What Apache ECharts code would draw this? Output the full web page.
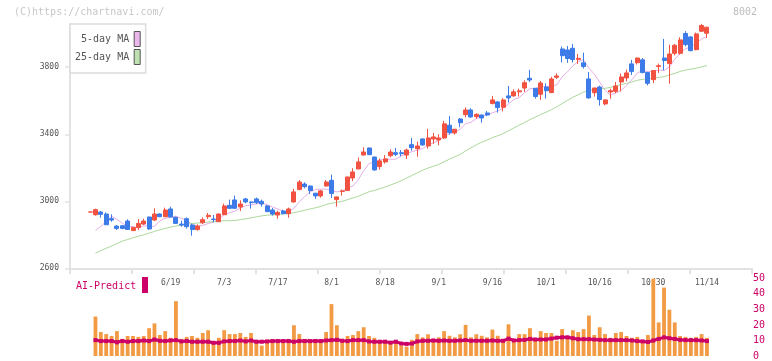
<!DOCTYPE html>
<html><head><meta charset="utf-8">
<script src="https://cdn.jsdelivr.net/npm/echarts@6/dist/echarts.min.js"></script>
<style>html,body{margin:0;padding:0;background:#fff}#c{width:772px;height:361px}</style>
</head><body><div id="c"></div>
<script>
const dates = ['5/29','5/30','6/2','6/3','6/4','6/5','6/6','6/9','6/10','6/11','6/12','6/13','6/16','6/17','6/18','6/19','6/20','6/23','6/24','6/25','6/26','6/27','6/30','7/1','7/2','7/3','7/4','7/7','7/8','7/9','7/10','7/11','7/14','7/15','7/16','7/17','7/18','7/22','7/23','7/24','7/25','7/28','7/29','7/30','7/31','8/1','8/4','8/5','8/6','8/7','8/8','8/12','8/13','8/14','8/15','8/18','8/19','8/20','8/21','8/22','8/25','8/26','8/27','8/28','8/29','9/1','9/2','9/3','9/4','9/5','9/8','9/9','9/10','9/11','9/12','9/16','9/17','9/18','9/19','9/22','9/24','9/25','9/26','9/29','9/30','10/1','10/2','10/3','10/6','10/7','10/8','10/9','10/10','10/14','10/15','10/16','10/17','10/20','10/21','10/22','10/23','10/24','10/27','10/28','10/29','10/30','10/31','11/4','11/5','11/6','11/7','11/10','11/11','11/12','11/13','11/14'];
const dateLabels = ['6/19','7/3','7/17','8/1','8/18','9/1','9/16','10/1','10/16','10/30','11/14'];
const priceTicks = [2600,3000,3400,3800];

const opens  = [2936,2920,2936,2924,2896,2852,2854,2882,2825,2843,2864,2906,2888,2924,2908,2954,2904,2864,2896,2858,2831,2872,2908,2894,2878,2920,2976,3008,2966,3014,2996,3014,3000,2972,2948,2918,2942,2926,2996,3070,3103,3091,3048,3032,3091,3125,3010,3058,3064,3139,3193,3276,3318,3264,3207,3235,3272,3290,3290,3276,3338,3314,3372,3330,3372,3366,3378,3454,3408,3491,3517,3545,3505,3515,3527,3583,3593,3561,3629,3629,3653,3676,3734,3674,3639,3682,3649,3740,3909,3903,3913,3847,3826,3730,3648,3682,3581,3652,3656,3712,3736,3820,3827,3844,3768,3726,3804,3855,3822,3883,3883,4001,3981,3905,4015,4003];
const closes = [2936,2950,2922,2860,2888,2838,2838,2832,2843,2868,2882,2835,2924,2908,2948,2906,2868,2858,2848,2831,2852,2890,2916,2891,2924,2972,2958,2958,2984,2996,2992,2992,2984,2938,2924,2934,2926,2954,3056,3115,3087,3064,3032,3062,3115,3046,3026,3062,3145,3175,3235,3294,3278,3187,3241,3253,3294,3280,3284,3306,3320,3330,3336,3378,3384,3378,3462,3410,3430,3469,3545,3503,3519,3497,3515,3605,3559,3605,3617,3653,3659,3708,3724,3625,3706,3660,3730,3748,3869,3852,3846,3853,3804,3617,3676,3607,3605,3660,3688,3742,3766,3774,3855,3768,3704,3780,3809,3840,3879,3931,3963,3935,3899,3999,4049,4039];
const lows   = [2934,2914,2902,2858,2878,2829,2833,2829,2824,2829,2858,2829,2882,2906,2906,2905,2866,2848,2837,2795,2825,2864,2894,2874,2876,2918,2954,2954,2942,2988,2956,2984,2968,2936,2914,2896,2922,2902,2992,3066,3077,3044,3014,3022,3089,3020,2968,3034,3062,3121,3191,3274,3277,3183,3189,3225,3262,3270,3268,3252,3302,3266,3332,3314,3342,3334,3372,3398,3398,3442,3501,3499,3493,3469,3509,3579,3529,3537,3589,3625,3625,3653,3712,3613,3605,3613,3645,3730,3828,3826,3828,3820,3792,3613,3625,3571,3573,3612,3644,3656,3716,3754,3816,3764,3692,3706,3766,3782,3702,3871,3875,3925,3895,3901,4011,3975];
const highs  = [2938,2956,2942,2934,2922,2858,2858,2892,2848,2894,2896,2908,2958,2928,2962,2968,2908,2884,2904,2866,2862,2904,2930,2918,2928,2986,3010,3034,3006,3020,2998,3022,3010,2978,2960,2944,2950,2962,3074,3127,3113,3095,3050,3068,3127,3159,3028,3070,3147,3197,3261,3322,3320,3266,3255,3276,3310,3318,3306,3314,3378,3356,3376,3432,3408,3400,3480,3509,3432,3497,3561,3555,3525,3517,3539,3629,3597,3615,3688,3668,3672,3722,3784,3676,3718,3704,3742,3764,3923,3927,3939,3879,3887,3772,3678,3690,3607,3672,3712,3762,3786,3844,3857,3855,3772,3782,3822,3969,3935,3939,3979,4015,3985,4007,4059,4041];

const ma5 = [null,2826,2850,2880,2911,2892,2869,2851,2848,2844,2853,2852,2850,2883,2899,2904,2911,2898,2886,2862,2851,2856,2867,2876,2895,2919,2932,2941,2959,2974,2978,2984,2990,2980,2966,2954,2941,2935,2959,2997,3028,3055,3071,3072,3072,3064,3056,3062,3079,3091,3129,3182,3225,3234,3247,3251,3251,3251,3270,3283,3297,3304,3315,3334,3350,3361,3388,3402,3413,3430,3463,3471,3493,3507,3516,3528,3539,3556,3580,3608,3619,3648,3672,3674,3684,3685,3689,3694,3743,3772,3809,3834,3845,3794,3759,3711,3662,3633,3647,3660,3692,3726,3765,3781,3773,3776,3783,3780,3802,3848,3884,3910,3921,3945,3969,3984];
const ma25 = [null,2690,2705,2720,2733,2748,2762,2772,2782,2791,2800,2810,2820,2830,2838,2846,2852,2858,2863,2867,2870,2873,2876,2879,2882,2884,2884,2885,2890,2895,2901,2907,2913,2917,2919,2921,2925,2926,2932,2939,2946,2954,2961,2969,2981,2988,2994,3000,3010,3020,3030,3044,3057,3065,3075,3085,3097,3109,3123,3138,3154,3170,3185,3198,3209,3220,3236,3251,3266,3280,3300,3319,3337,3352,3365,3380,3391,3404,3421,3437,3454,3470,3488,3502,3518,3531,3547,3564,3583,3602,3621,3636,3652,3660,3668,3670,3674,3680,3688,3697,3703,3712,3722,3728,3730,3735,3739,3743,3754,3763,3775,3783,3789,3794,3802,3810];

const volumes = [null,25.4,15.4,14.1,12.9,16.0,11.0,12.9,12.9,12.3,12.9,17.9,21.0,13.5,16.0,11.7,35.3,11.0,12.3,12.9,11.7,14.8,16.6,8.5,11.7,16.6,14.1,14.1,14.8,12.3,14.8,10.4,6.7,10.4,10.4,10.4,10.4,11.0,19.8,14.1,11.0,10.4,11.0,10.4,15.4,33.4,19.8,11.0,12.9,13.5,16.0,18.5,12.9,11.7,9.8,9.2,9.2,8.5,6.7,6.0,10.4,14.1,12,14,11,12,16,13,12,14,20,12,14,13,12,17,13,10.6,20.4,10.6,14.1,14.1,17.9,11.7,16.0,14.8,14.8,9.8,17.3,11.7,16.6,15.4,17.3,26.0,13.5,18.5,14.1,11.7,14.8,15.4,12.9,11.7,12.3,8.5,13.5,49.7,21.6,44.0,29.8,21.6,12.9,12.3,11.7,12.3,14.1,11.7];
const aiPredict = [null,10.2,9.6,9.6,9.6,8.8,9.6,9.2,9.6,9.6,10.0,9.6,10.6,9.8,9.6,10.0,10.2,9.4,9.6,9.2,9.2,9.2,9.2,8.5,8.5,9.4,9.6,9.6,10.0,9.4,10.0,9.2,9.2,9.4,9.6,9.6,9.6,9.6,9.2,9.6,9.6,9.6,9.6,9.6,10.0,10.2,10.4,9.8,9.6,10.2,10.2,10.2,9.4,9.2,9.2,9.2,8.6,9.2,8.0,7.8,8.0,9.4,9.8,9.8,10.0,9.8,10.0,9.8,9.8,10.0,10.2,9.8,9.8,9.8,9.8,10.0,9.8,9.8,11.2,10.0,10.2,10.4,11.0,10.6,10.6,10.6,11.2,11.8,12.0,12.0,11.4,10.8,10.8,10.8,10.6,10.4,10.2,10.2,10.2,10.2,10.2,10.0,9.6,9.4,9.0,10.0,11.0,12.0,11.4,11.0,10.4,10.2,10.2,10.2,10.0,9.6];

const FONT = '"DejaVu Sans Mono", "Liberation Mono", monospace';
const UP = '#f25241', DOWN = '#3c7be8';
const xMin = -3.75, xMax = 123.4;
const xTicks = [];
for (let k = 0; k <= 11; k++) xTicks.push(xMin + k * (xMax - xMin) / 11);
const labelIdx = dateLabels.map(d => dates.indexOf(d));

const chart = echarts.init(document.getElementById('c'), null, {renderer: 'canvas'});
chart.setOption({
  animation: false,
  backgroundColor: '#fff',
  grid: [
    {left: 70, right: 20, top: 24, height: 244.3},
    {left: 70, right: 20, top: 278.3, height: 80.4}
  ],
  legend: {
    left: 70, top: 24, orient: 'vertical', align: 'right',
    itemWidth: 6, itemHeight: 15, itemGap: 2,
    padding: [7, 5, 8, 5],
    backgroundColor: '#fff', borderColor: '#dcdcdc', borderWidth: 1.5,
    textStyle: {fontFamily: FONT, fontSize: 10, color: '#555'},
    data: [
      {name: '5-day MA', icon: 'rect', itemStyle: {color: '#ecb8ec', borderColor: '#555', borderWidth: 1}},
      {name: '25-day MA', icon: 'rect', itemStyle: {color: '#bfe0b0', borderColor: '#555', borderWidth: 1}}
    ]
  },
  xAxis: [
    {
      type: 'value', gridIndex: 0, min: xMin, max: xMax,
      axisLine: {show: true, onZero: false, lineStyle: {color: '#e2e2e2', width: 2}},
      axisTick: {show: true, customValues: xTicks, length: 6, lineStyle: {color: '#e2e2e2', width: 2}},
      axisLabel: {customValues: labelIdx, formatter: v => dates[Math.round(v)], margin: 11,
        fontFamily: FONT, fontSize: 8, color: '#555'},
      splitLine: {show: false}
    },
    {type: 'value', gridIndex: 1, min: xMin, max: xMax, show: false}
  ],
  yAxis: [
    {
      type: 'value', gridIndex: 0, min: 2600, max: 4058, position: 'left',
      axisLine: {show: true, onZero: false, lineStyle: {color: '#e2e2e2', width: 2}},
      axisTick: {show: true, customValues: priceTicks, length: 5, lineStyle: {color: '#e2e2e2', width: 1.5}},
      axisLabel: {customValues: priceTicks, formatter: v => String(v), margin: 11, fontFamily: FONT, fontSize: 8, color: '#555'},
      splitLine: {show: false}
    },
    {
      type: 'value', gridIndex: 1, min: 0, max: 50, interval: 10, position: 'right',
      axisLine: {show: false}, axisTick: {show: false},
      axisLabel: {margin: 1, fontFamily: FONT, fontSize: 10, color: '#cc0066'},
      splitLine: {show: false}
    }
  ],
  graphic: [
    {type: 'text', x: 14, y: 12, style: {text: '(C)https://chartnavi.com/', fill: '#c8c8c8', font: '10px ' + FONT, verticalAlign: 'middle'}},
    {type: 'text', x: 757, y: 12, style: {text: '8002', fill: '#bdbdbd', font: '10px ' + FONT, align: 'right', verticalAlign: 'middle'}},
    {type: 'text', x: 76, y: 286.5, style: {text: 'AI-Predict', fill: '#cc0066', font: '10px ' + FONT, verticalAlign: 'middle'}},
    {type: 'rect', shape: {x: 142, y: 277, width: 6, height: 16}, style: {fill: '#cc0066'}}
  ],
  series: [
    {
      name: '5-day MA', type: 'line', xAxisIndex: 0, yAxisIndex: 0, z: 2,
      data: ma5.map((v, i) => [i, v]), showSymbol: false, connectNulls: false,
      lineStyle: {color: '#e6aee6', width: 1}, itemStyle: {color: '#ecb8ec'}
    },
    {
      name: '25-day MA', type: 'line', xAxisIndex: 0, yAxisIndex: 0, z: 2,
      data: ma25.map((v, i) => [i, v]), showSymbol: false,
      lineStyle: {color: '#acd89c', width: 1}, itemStyle: {color: '#bfe0b0'}
    },
    {
      name: 'price', type: 'candlestick', xAxisIndex: 0, yAxisIndex: 0, z: 3,
      barWidth: 4.5,
      data: dates.map((d, i) => [i, opens[i], closes[i], lows[i], highs[i]]),
      encode: {x: 0, y: [1, 2, 3, 4]},
      itemStyle: {color: UP, color0: DOWN, borderColor: UP, borderColor0: DOWN, borderWidth: 1}
    },
    {
      name: 'volume', type: 'bar', xAxisIndex: 1, yAxisIndex: 1, barWidth: 3.8,
      data: volumes.map((v, i) => [i, v]),
      itemStyle: {color: '#f29a44'}
    },
    {
      name: 'AI-Predict', type: 'line', xAxisIndex: 1, yAxisIndex: 1, z: 4,
      data: aiPredict.map((v, i) => [i, v]),
      symbol: 'rect', symbolSize: 4, showSymbol: true,
      lineStyle: {color: '#cc0066', width: 3}, itemStyle: {color: '#cc0066'}
    }
  ]
});
</script></body></html>
